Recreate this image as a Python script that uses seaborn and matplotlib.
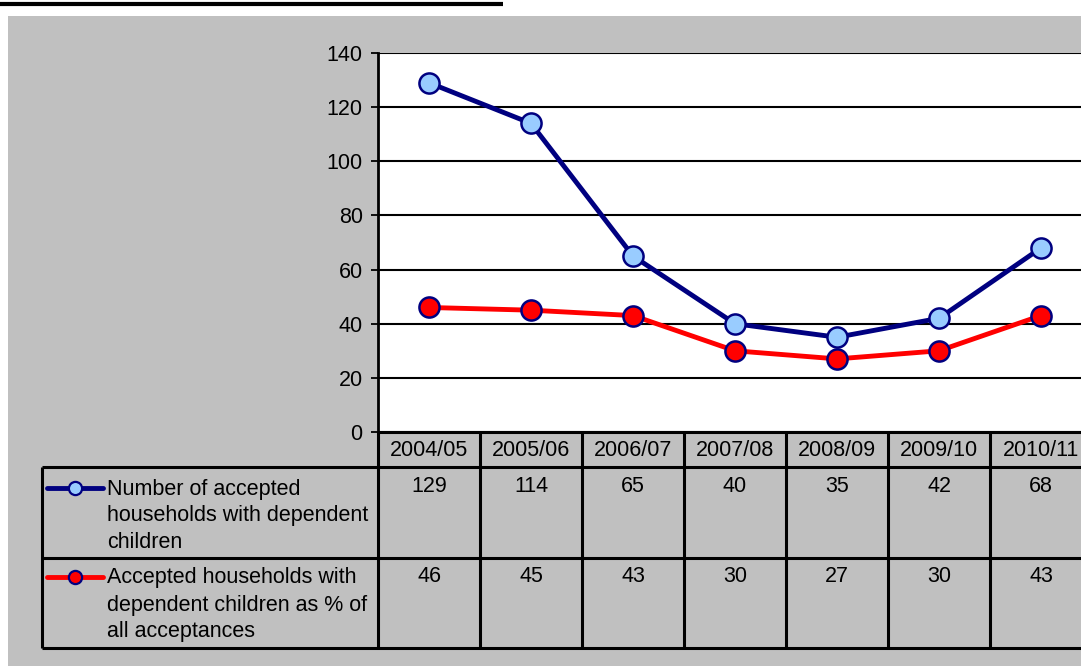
import matplotlib
matplotlib.use("Agg")
import matplotlib.pyplot as plt
from matplotlib.lines import Line2D
from matplotlib.patches import Rectangle
import pandas as pd
import seaborn as sns

# Data
years = ["2004/05", "2005/06", "2006/07", "2007/08", "2008/09", "2009/10", "2010/11"]
households = [129, 114, 65, 40, 35, 42, 68]
pct_of_acceptances = [46, 45, 43, 30, 27, 30, 43]
series_names = [
    ["Number of accepted", "households with dependent", "children"],
    ["Accepted households with", "dependent children as % of", "all acceptances"],
]
y_ticks = [0, 20, 40, 60, 80, 100, 120, 140]

NAVY = "#000080"
LIGHT_BLUE = "#99CCFF"
RED = "#FF0000"
GREY = "#C0C0C0"
FS = 15.5

sns.set_theme(style="white")
plt.rcParams["font.family"] = ["Liberation Sans", "DejaVu Sans"]
plt.rcParams["text.color"] = "black"

W, H = 1081, 666
fig = plt.figure(figsize=(W / 100, H / 100), dpi=100)
fig.patch.set_facecolor("white")


def fx(px):
    return px / W


def fy(py):
    return 1 - py / H


def hline(x0, x1, y, lw=2.0, color="black"):
    fig.add_artist(Line2D([fx(x0), fx(x1)], [fy(y), fy(y)], color=color, lw=lw,
                          transform=fig.transFigure, solid_capstyle="butt"))


def vline(x, y0, y1, lw=2.0, color="black"):
    fig.add_artist(Line2D([fx(x), fx(x)], [fy(y0), fy(y1)], color=color, lw=lw,
                          transform=fig.transFigure, solid_capstyle="butt"))


# heading underline and grey chart area
hline(0, 503, 4, lw=3.0)
fig.add_artist(Rectangle((fx(8), 0), 1 - fx(8), fy(16), transform=fig.transFigure,
                         facecolor=GREY, edgecolor="none", zorder=0))

# plot area
left, right, top, bottom = 378, 1092, 53, 432
ax = fig.add_axes([fx(left), fy(bottom), fx(right) - fx(left), fy(top) - fy(bottom)])
ax.set_facecolor("white")

df = pd.DataFrame({"year": years * 2,
                   "value": households + pct_of_acceptances,
                   "series": ["households"] * len(years) + ["pct"] * len(years)})

sns.lineplot(data=df[df.series == "households"], x="year", y="value", ax=ax,
             color=NAVY, lw=3.5, marker="o", markersize=14.5,
             markerfacecolor=LIGHT_BLUE, markeredgecolor=NAVY, markeredgewidth=1.8,
             zorder=4)
sns.lineplot(data=df[df.series == "pct"], x="year", y="value", ax=ax,
             color=RED, lw=3.5, marker="o", markersize=14.5,
             markerfacecolor=RED, markeredgecolor=NAVY, markeredgewidth=1.8,
             zorder=5)

ax.set_xlim(-0.5, len(years) - 0.5)
ax.set_ylim(0, 140)
ax.set_yticks(y_ticks)
ax.set_yticklabels([str(t) for t in y_ticks], fontsize=FS, color="black")
ax.set_xticks([])
ax.set_xlabel("")
ax.set_ylabel("")
for t in y_ticks:
    ax.axhline(t, color="black", lw=1.5, zorder=1)
ax.tick_params(axis="y", direction="out", length=5, width=1.3, color="black",
               left=True, pad=6)
for s in ["top", "right", "bottom"]:
    ax.spines[s].set_visible(False)
ax.spines["left"].set_color("black")
ax.spines["left"].set_linewidth(2.0)

# data table beneath the plot
col_w = (right - left) / len(years)
hdr_bot, row1_bot, row2_bot = 467, 558, 648
tbl_left = 42

hline(left, W + 5, bottom, lw=2.2)
hline(tbl_left, W + 5, hdr_bot, lw=2.2)
hline(tbl_left, W + 5, row1_bot, lw=2.2)
hline(tbl_left, W + 5, row2_bot, lw=2.2)
vline(tbl_left, hdr_bot, row2_bot, lw=2.2)
for i in range(len(years) + 1):
    vline(left + i * col_w, bottom, row2_bot, lw=2.2)

for i, yr in enumerate(years):
    cx = left + (i + 0.5) * col_w
    fig.text(fx(cx), fy(450), yr, ha="center", va="center", fontsize=FS)
    fig.text(fx(cx), fy(487), str(households[i]), ha="center", va="center", fontsize=FS)
    fig.text(fx(cx), fy(577), str(pct_of_acceptances[i]), ha="center", va="center", fontsize=FS)

# legend keys and series names in the table
keys = [(NAVY, LIGHT_BLUE, 488), (RED, RED, 577)]
for (lc, fc, ky), names in zip(keys, series_names):
    fig.add_artist(Line2D([fx(47), fx(103)], [fy(ky), fy(ky)], color=lc, lw=3.5,
                          transform=fig.transFigure, solid_capstyle="round"))
    fig.add_artist(Line2D([fx(75)], [fy(ky)], marker="o", markersize=9.5,
                          markerfacecolor=fc, markeredgecolor=NAVY, markeredgewidth=1.6,
                          transform=fig.transFigure, linestyle="none"))
    for j, line in enumerate(names):
        fig.text(fx(107), fy(ky + 1 + j * 27), line, ha="left", va="center", fontsize=FS)

fig.savefig("out.png", dpi=100, facecolor=fig.get_facecolor())
